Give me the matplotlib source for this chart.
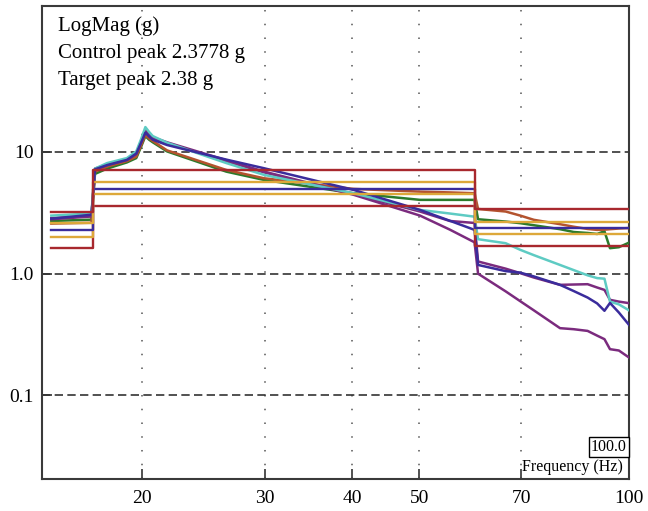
import matplotlib
matplotlib.use("Agg")
import matplotlib.pyplot as plt
from matplotlib.ticker import FixedLocator, FixedFormatter, NullLocator

plt.rcParams.update({
    "font.family": "serif",
    "font.serif": ["Liberation Serif", "DejaVu Serif"],
})

# frequency grid (Hz) shared by the control channels
freq = [14.8, 16.9, 17.1, 17.8, 19.0, 19.6, 19.9, 20.2, 20.45, 20.7, 21.7, 26.4,
        29.9, 40.2, 50.1, 55.3, 60.0, 60.7, 66.5, 69.8, 73.0, 79.6, 83.3, 87.2,
        90.0, 92.2, 93.9, 96.7, 100.0]

ch_teal = [3.0, 3.12, 7.3, 8.1, 8.9, 10.1, 12.6, 16.0, 14.6, 13.5, 11.9, 8.1,
           6.48, 4.58, 3.34, 3.12, 2.94, 1.92, 1.78, 1.57, 1.42, 1.18, 1.07, 0.97,
           0.92, 0.91, 0.59, 0.56, 0.50]
ch_indigo = [2.83, 3.05, 7.2, 7.8, 8.6, 9.7, 11.8, 14.4, 13.4, 12.6, 11.4, 8.65,
             7.35, 4.88, 3.34, 2.72, 2.29, 1.18, 1.05, 1.02, 0.95, 0.81, 0.72, 0.637,
             0.57, 0.496, 0.575, 0.48, 0.38]
ch_purple_a = [2.86, 2.98, 7.3, 7.9, 8.7, 9.8, 12.1, 15.0, 14.0, 13.2, 12.0, 8.55,
               6.9, 4.5, 3.24, 2.71, 2.61, 1.26, 1.10, 1.01, 0.93, 0.81, 0.815, 0.82,
               0.77, 0.736, 0.61, 0.59, 0.573]
ch_purple_b = [2.8, 2.95, 7.2, 7.8, 8.6, 9.6, 11.9, 14.6, 13.6, 12.9, 11.8, 8.4,
               6.8, 4.45, 3.0, 2.3, 1.81, 1.0, 0.716, 0.594, 0.50, 0.357, 0.35, 0.339,
               0.31, 0.29, 0.24, 0.234, 0.205]
ch_green = [2.71, 2.78, 6.6, 7.3, 8.2, 8.9, 10.9, 13.5, 12.6, 12.0, 10.1, 6.89,
            5.89, 4.58, 4.04, 4.04, 4.04, 2.80, 2.68, 2.60, 2.50, 2.32, 2.20, 2.16,
            2.12, 2.23, 1.62, 1.65, 1.80]
ch_sienna = [2.58, 2.62, 6.9, 7.58, 8.4, 9.15, 11.2, 13.8, 12.9, 12.3, 10.3, 7.11,
             6.08, 4.97, 4.72, 4.65, 4.58, 3.40, 3.24, 3.0, 2.77, 2.55, 2.43, 2.33,
             2.29, 2.30, 2.32, 2.35, 2.37]

# reference profile breakpoints and levels (low, mid, high band)
prof_freq = [14.8, 17.0, 60.0, 100.0]
abort_hi = [3.24, 7.11, 3.41]
alarm_hi = [2.60, 5.67, 2.68]
target = [2.29, 5.0, 2.39]
alarm_lo = [2.02, 4.52, 2.13]
abort_lo = [1.64, 3.59, 1.69]

xticks = [20, 30, 40, 50, 70, 100]
xlabels = ["20", "30", "40", "50", "70", "100"]
yticks = [0.1, 1.0, 10]
ylabels = ["0.1", "1.0", "10"]

c_red = "#A8282E"
c_gold = "#DDA83A"
c_indigo = "#3A2C9C"

fig = plt.figure(figsize=(6.48, 5.11), dpi=100)
ax = fig.add_axes([0.0648, 0.0626, 0.9059, 0.9257])

curves = [
    (ch_green, "#2B7A2B"),
    (ch_sienna, "#B4532E"),
    (ch_purple_b, "#7B2B7E"),
    (ch_purple_a, "#7B2B7E"),
    (ch_teal, "#5ECBC3"),
    (ch_indigo, c_indigo),
]
for vals, col in curves:
    ax.plot(freq, vals, color=col, lw=1.8, zorder=3, solid_joinstyle="round")

for lev, col in [(abort_lo, c_red), (alarm_lo, c_gold), (target, c_indigo),
                 (alarm_hi, c_gold), (abort_hi, c_red)]:
    ax.step(prof_freq, lev + [lev[-1]], where="post", color=col, lw=1.7, zorder=4)

ax.set_xscale("log")
ax.set_yscale("log")
ax.set_xlim(14.35, 100)
ax.set_ylim(0.0206, 158)

ax.xaxis.set_major_locator(FixedLocator(xticks))
ax.xaxis.set_major_formatter(FixedFormatter(xlabels))
ax.xaxis.set_minor_locator(NullLocator())
ax.yaxis.set_major_locator(FixedLocator(yticks))
ax.yaxis.set_major_formatter(FixedFormatter(ylabels))
ax.yaxis.set_minor_locator(NullLocator())

ax.tick_params(axis="both", direction="in", length=7, width=1.2, color="#333333",
               labelsize=14)
ax.tick_params(axis="x", pad=8)
ax.tick_params(axis="y", pad=6)

for x in xticks[:-1]:
    ax.axvline(x, color="#555555", lw=1.1, linestyle=(0, (1, 8)), zorder=1)
for y in yticks:
    ax.axhline(y, color="#333333", lw=1.2, linestyle=(0, (5, 2.6)), zorder=1)

for s in ax.spines.values():
    s.set_color("#3a3a3a")
    s.set_linewidth(1.5)

ax.text(0.027, 0.957, "LogMag (g)", transform=ax.transAxes, fontsize=15, va="center")
ax.text(0.027, 0.899, "Control peak 2.3778 g", transform=ax.transAxes, fontsize=15, va="center")
ax.text(0.027, 0.843, "Target peak 2.38 g", transform=ax.transAxes, fontsize=15, va="center")

ax.text(0.996, 0.067, "100.0", transform=ax.transAxes, fontsize=11.5, ha="right", va="center",
        bbox=dict(boxstyle="square,pad=0.12", facecolor="white", edgecolor="black", lw=1))
ax.text(0.99, 0.025, "Frequency (Hz)", transform=ax.transAxes, fontsize=11.5,
        ha="right", va="center")

fig.savefig("out.png", dpi=100)
